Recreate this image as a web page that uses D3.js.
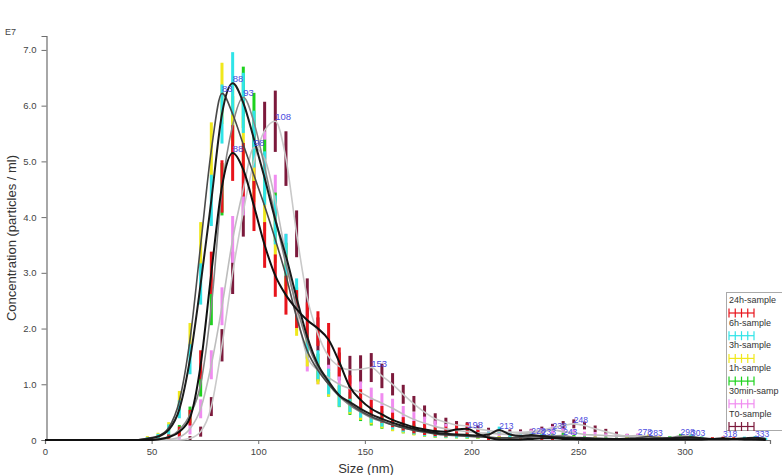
<!DOCTYPE html>
<html>
<head>
<meta charset="utf-8">
<style>
  body { margin: 0; background: #fff; }
  svg { display: block; font-family: "Liberation Sans", Arial, sans-serif; }
</style>
</head>
<body>
<div id="chart"></div>
<script src="https://d3js.org/d3.v7.min.js"></script>
<script>
// particle size bins (nm)
const sizes = [0, 43, 48, 53, 58, 63, 68, 73, 78, 83,
  88, 93, 98, 103, 108, 113, 118, 123, 128, 133,
  138, 143, 148, 153, 158, 163, 168, 173, 178, 183,
  188, 193, 198, 203, 208, 213, 218, 223, 228, 233,
  238, 243, 248, 253, 258, 263, 268, 273, 278, 283,
  288, 293, 298, 303, 308, 313, 318, 323, 328, 333,
  338];

const seriesNames = ["24h-sample", "6h-sample", "3h-sample", "1h-sample", "30min-samp", "T0-sample"];

// concentration, E7 particles / ml
const mean24h = [0, 0, 0, 0.01, 0.05, 0.15, 0.4, 1.35, 3.0, 4.55,
  5.15, 4.85, 4.2, 3.5, 2.95, 2.6, 2.35, 2.15, 2.0, 1.8,
  1.4, 0.95, 0.72, 0.56, 0.46, 0.36, 0.29, 0.23, 0.19, 0.16,
  0.15, 0.19, 0.2, 0.11, 0.04, 0.01, 0.01, 0.01, 0.02, 0.03,
  0.03, 0.02, 0.02, 0.01, 0.01, 0.01, 0.01, 0.01, 0.01, 0.01,
  0.01, 0.01, 0.01, 0.01, 0.01, 0.02, 0.03, 0.02, 0.01, 0.01,
  0];
const sd24h = [0, 0, 0, 0.02, 0.05, 0.09, 0.14, 0.26, 0.38, 0.47,
  0.5, 0.48, 0.45, 0.41, 0.38, 0.35, 0.34, 0.32, 0.31, 0.3,
  0.26, 0.21, 0.19, 0.16, 0.15, 0.13, 0.12, 0.11, 0.1, 0.09,
  0.09, 0.1, 0.1, 0.07, 0.04, 0.02, 0.02, 0.02, 0.03, 0.03,
  0.03, 0.03, 0.03, 0.02, 0.02, 0.02, 0.02, 0.02, 0.02, 0.02,
  0.02, 0.02, 0.02, 0.02, 0.02, 0.03, 0.03, 0.03, 0.02, 0.02,
  0];

const mean6h = [0, 0, 0.02, 0.06, 0.18, 0.55, 1.45, 2.8, 4.3, 5.85,
  6.4, 6.05, 5.4, 4.7, 3.95, 3.3, 2.55, 1.85, 1.35, 1.05,
  0.8, 0.68, 0.56, 0.46, 0.38, 0.31, 0.25, 0.2, 0.16, 0.13,
  0.11, 0.1, 0.09, 0.08, 0.1, 0.18, 0.1, 0.07, 0.09, 0.07,
  0.05, 0.04, 0.03, 0.03, 0.02, 0.02, 0.02, 0.02, 0.02, 0.02,
  0.02, 0.03, 0.04, 0.05, 0.03, 0.02, 0.02, 0.02, 0.03, 0.04,
  0.02];
const sd6h = [0, 0, 0.03, 0.05, 0.1, 0.16, 0.27, 0.37, 0.46, 0.53,
  0.56, 0.54, 0.51, 0.48, 0.44, 0.4, 0.35, 0.3, 0.26, 0.23,
  0.2, 0.18, 0.16, 0.15, 0.14, 0.12, 0.11, 0.1, 0.09, 0.08,
  0.07, 0.06, 0.06, 0.05, 0.05, 0.06, 0.05, 0.04, 0.05, 0.04,
  0.04, 0.03, 0.03, 0.03, 0.02, 0.02, 0.02, 0.02, 0.02, 0.02,
  0.02, 0.03, 0.03, 0.04, 0.03, 0.02, 0.02, 0.02, 0.03, 0.03,
  0.02];

const mean3h = [0, 0, 0.03, 0.07, 0.22, 0.7, 1.8, 3.5, 5.2, 6.22,
  5.85, 5.3, 4.75, 4.2, 3.6, 2.95, 2.2, 1.6, 1.25, 1.0,
  0.8, 0.65, 0.52, 0.42, 0.34, 0.27, 0.22, 0.17, 0.14, 0.11,
  0.09, 0.08, 0.07, 0.06, 0.05, 0.04, 0.04, 0.05, 0.06, 0.08,
  0.06, 0.05, 0.04, 0.03, 0.03, 0.02, 0.02, 0.03, 0.04, 0.06,
  0.04, 0.03, 0.02, 0.02, 0.02, 0.02, 0.02, 0.02, 0.02, 0.01,
  0];
const sd3h = [0, 0, 0.04, 0.06, 0.1, 0.18, 0.3, 0.41, 0.5, 0.55,
  0.53, 0.51, 0.48, 0.45, 0.42, 0.38, 0.33, 0.28, 0.25, 0.22,
  0.2, 0.18, 0.16, 0.14, 0.13, 0.11, 0.1, 0.09, 0.08, 0.07,
  0.06, 0.05, 0.05, 0.04, 0.04, 0.03, 0.03, 0.04, 0.04, 0.05,
  0.04, 0.04, 0.03, 0.03, 0.03, 0.02, 0.02, 0.03, 0.03, 0.04,
  0.03, 0.03, 0.02, 0.02, 0.02, 0.02, 0.02, 0.02, 0.02, 0.02,
  0];

const mean1h = [0, 0, 0, 0.02, 0.06, 0.18, 0.45, 1.0, 2.4, 4.5,
  5.65, 6.15, 5.7, 4.9, 4.0, 3.15, 2.4, 1.75, 1.3, 1.0,
  0.78, 0.62, 0.5, 0.4, 0.33, 0.27, 0.22, 0.18, 0.15, 0.12,
  0.1, 0.08, 0.07, 0.06, 0.05, 0.04, 0.04, 0.04, 0.05, 0.06,
  0.07, 0.08, 0.05, 0.04, 0.03, 0.03, 0.02, 0.02, 0.02, 0.02,
  0.03, 0.04, 0.07, 0.06, 0.03, 0.02, 0.02, 0.02, 0.01, 0.01,
  0];
const sd1h = [0, 0, 0, 0.03, 0.05, 0.09, 0.15, 0.22, 0.34, 0.47,
  0.52, 0.55, 0.53, 0.49, 0.44, 0.39, 0.34, 0.29, 0.25, 0.22,
  0.19, 0.17, 0.16, 0.14, 0.13, 0.11, 0.1, 0.09, 0.09, 0.08,
  0.06, 0.05, 0.05, 0.04, 0.04, 0.03, 0.03, 0.03, 0.04, 0.04,
  0.04, 0.05, 0.04, 0.03, 0.03, 0.03, 0.02, 0.02, 0.02, 0.02,
  0.03, 0.03, 0.04, 0.04, 0.03, 0.02, 0.02, 0.02, 0.02, 0.02,
  0];

const mean30min = [0, 0, 0, 0, 0.01, 0.05, 0.2, 0.56, 1.35, 2.4,
  3.6, 4.5, 5.25, 5.05, 4.3, 3.3, 2.3, 1.5, 1.25, 1.12,
  1.0, 0.92, 0.85, 0.75, 0.66, 0.57, 0.46, 0.37, 0.3, 0.24,
  0.2, 0.17, 0.15, 0.13, 0.12, 0.11, 0.1, 0.11, 0.13, 0.15,
  0.18, 0.15, 0.13, 0.1, 0.09, 0.08, 0.07, 0.07, 0.08, 0.06,
  0.05, 0.04, 0.04, 0.03, 0.03, 0.02, 0.02, 0.02, 0.01, 0.01,
  0];
const sd30min = [0, 0, 0, 0, 0.02, 0.05, 0.1, 0.17, 0.26, 0.34,
  0.42, 0.47, 0.5, 0.49, 0.46, 0.4, 0.33, 0.27, 0.25, 0.23,
  0.22, 0.21, 0.2, 0.19, 0.18, 0.17, 0.15, 0.13, 0.12, 0.11,
  0.09, 0.08, 0.07, 0.06, 0.06, 0.05, 0.05, 0.05, 0.06, 0.06,
  0.07, 0.06, 0.06, 0.05, 0.05, 0.04, 0.04, 0.04, 0.04, 0.03,
  0.03, 0.03, 0.03, 0.03, 0.03, 0.02, 0.02, 0.02, 0.02, 0.02,
  0];

const meanT0 = [0, 0, 0, 0, 0, 0, 0.03, 0.15, 0.6, 1.7,
  3.0, 4.1, 5.0, 5.55, 5.72, 5.05, 3.7, 2.55, 1.9, 1.5,
  1.32, 1.26, 1.27, 1.3, 1.15, 1.0, 0.82, 0.65, 0.5, 0.38,
  0.32, 0.27, 0.25, 0.2, 0.17, 0.15, 0.14, 0.14, 0.15, 0.18,
  0.22, 0.26, 0.29, 0.26, 0.2, 0.15, 0.1, 0.07, 0.06, 0.05,
  0.04, 0.03, 0.03, 0.03, 0.02, 0.02, 0.02, 0.01, 0.01, 0.01,
  0];
const sdT0 = [0, 0, 0, 0, 0, 0, 0.04, 0.09, 0.17, 0.29,
  0.38, 0.45, 0.49, 0.52, 0.55, 0.49, 0.42, 0.35, 0.3, 0.27,
  0.25, 0.25, 0.25, 0.26, 0.22, 0.2, 0.17, 0.14, 0.12, 0.1,
  0.08, 0.07, 0.07, 0.06, 0.05, 0.05, 0.05, 0.05, 0.05, 0.06,
  0.07, 0.08, 0.08, 0.07, 0.06, 0.05, 0.05, 0.04, 0.04, 0.03,
  0.03, 0.03, 0.03, 0.03, 0.02, 0.02, 0.02, 0.02, 0.02, 0.02,
  0];

// peak labels: size (nm), per series
const peaks24h = [88, 198, 318];
const peaks6h = [88, 213, 228, 303, 333];
const peaks3h = [83, 233, 283];
const peaks1h = [93, 243, 298];
const peaks30min = [98, 238, 278];
const peaksT0 = [108, 153, 248];

const xTicks = [0, 50, 100, 150, 200, 250, 300];
const yTicks = [0, 1, 2, 3, 4, 5, 6, 7];

const barColors = ["#e8141c", "#2fe4e8", "#f0e81c", "#1ed21e", "#f08cf0", "#7c1a3c"];
const lineColors = ["#111111", "#1c1c1c", "#4a4a4a", "#858585", "#bdbdbd", "#c9c9c9"];
const lineWidths = [2, 2, 1.6, 1.6, 1.6, 1.6];

const series = seriesNames.map((name, i) => ({
  name: name,
  mean: [mean24h, mean6h, mean3h, mean1h, mean30min, meanT0][i],
  sd: [sd24h, sd6h, sd3h, sd1h, sd30min, sdT0][i],
  peaks: [peaks24h, peaks6h, peaks3h, peaks1h, peaks30min, peaksT0][i],
  bar: barColors[i],
  line: lineColors[i],
  lw: lineWidths[i]
}));

const W = 782, H = 475;
const x = d3.scaleLinear().domain([0, 340]).range([45, 770]);
const y = d3.scaleLinear().domain([0, 7.25]).range([440, 36]);

const svg = d3.select("#chart").append("svg")
  .attr("width", W)
  .attr("height", H);

svg.append("rect").attr("width", W).attr("height", H).attr("fill", "#fff");

// axes
const xAxis = svg.append("g")
  .attr("transform", "translate(0,440)")
  .call(d3.axisBottom(x).tickValues(xTicks).tickSize(4).tickPadding(4).tickFormat(d3.format("d")));
const yAxis = svg.append("g")
  .attr("transform", "translate(46.5,0)")
  .call(d3.axisLeft(y).tickValues(yTicks).tickSize(5).tickPadding(5)
    .tickFormat(d => d === 0 ? "0" : d3.format(".1f")(d)));

[xAxis, yAxis].forEach(g => {
  g.select(".domain").attr("stroke", "#6e6e6e").attr("stroke-width", 1.2);
  g.selectAll(".tick line").attr("stroke", "#6e6e6e");
  g.selectAll(".tick text").attr("fill", "#444").attr("font-size", 9.5)
    .attr("font-family", "'Liberation Sans', Arial, sans-serif");
});

svg.append("text").attr("x", 5).attr("y", 35)
  .attr("font-size", 9).attr("fill", "#444").text("E7");

svg.append("text")
  .attr("transform", "translate(16,238) rotate(-90)")
  .attr("text-anchor", "middle")
  .attr("font-size", 13).attr("fill", "#333")
  .text("Concentration (particles / ml)");

svg.append("text")
  .attr("x", 366).attr("y", 473)
  .attr("text-anchor", "middle")
  .attr("font-size", 13).attr("fill", "#333")
  .text("Size (nm)");

const drawOrder = series.slice().reverse();

// error bars
drawOrder.forEach(s => {
  svg.append("g").selectAll("rect")
    .data(sizes.map((d, i) => ({ size: d, v: s.mean[i], e: s.sd[i] })).filter(d => d.e > 0))
    .enter().append("rect")
    .attr("x", d => x(d.size) - 1.5)
    .attr("width", 3)
    .attr("y", d => y(d.v + d.e))
    .attr("height", d => y(Math.max(0, d.v - d.e)) - y(d.v + d.e))
    .attr("fill", s.bar);
});

// lines
const line = d3.line()
  .x(d => x(d[0]))
  .y(d => y(d[1]))
  .curve(d3.curveMonotoneX);

drawOrder.forEach(s => {
  svg.append("path")
    .datum(sizes.map((d, i) => [d, s.mean[i]]))
    .attr("d", line)
    .attr("fill", "none")
    .attr("stroke", s.line)
    .attr("stroke-width", s.lw)
    .attr("stroke-linejoin", "round");
});

// peak labels
series.forEach(s => {
  svg.append("g").selectAll("text")
    .data(s.peaks)
    .enter().append("text")
    .attr("x", d => x(d))
    .attr("y", d => y(s.mean[sizes.indexOf(d)]) - 1)
    .attr("font-size", d => d > 200 ? 8.5 : 9.5)
    .attr("fill", "#4b4be0")
    .text(d => d);
});

// legend
const lg = svg.append("g").attr("transform", "translate(726,292)");
lg.append("rect").attr("x", 0.5).attr("y", 0.5).attr("width", 80).attr("height", 138)
  .attr("fill", "#fff").attr("stroke", "#aaa");
series.forEach((s, i) => {
  const g = lg.append("g").attr("transform", "translate(3," + (11 + i * 22.7) + ")");
  g.append("text").attr("font-size", 9).attr("fill", "#333").text(s.name);
  g.append("line").attr("x1", 0).attr("x2", 25).attr("y1", 10).attr("y2", 10)
    .attr("stroke", s.bar).attr("stroke-width", 1.2);
  g.selectAll(".tk").data([0, 1, 2, 3, 4]).enter().append("line")
    .attr("x1", d => d * 6.25).attr("x2", d => d * 6.25)
    .attr("y1", 5.5).attr("y2", 14.5)
    .attr("stroke", s.bar).attr("stroke-width", 1.2);
});
</script>
</body>
</html>
